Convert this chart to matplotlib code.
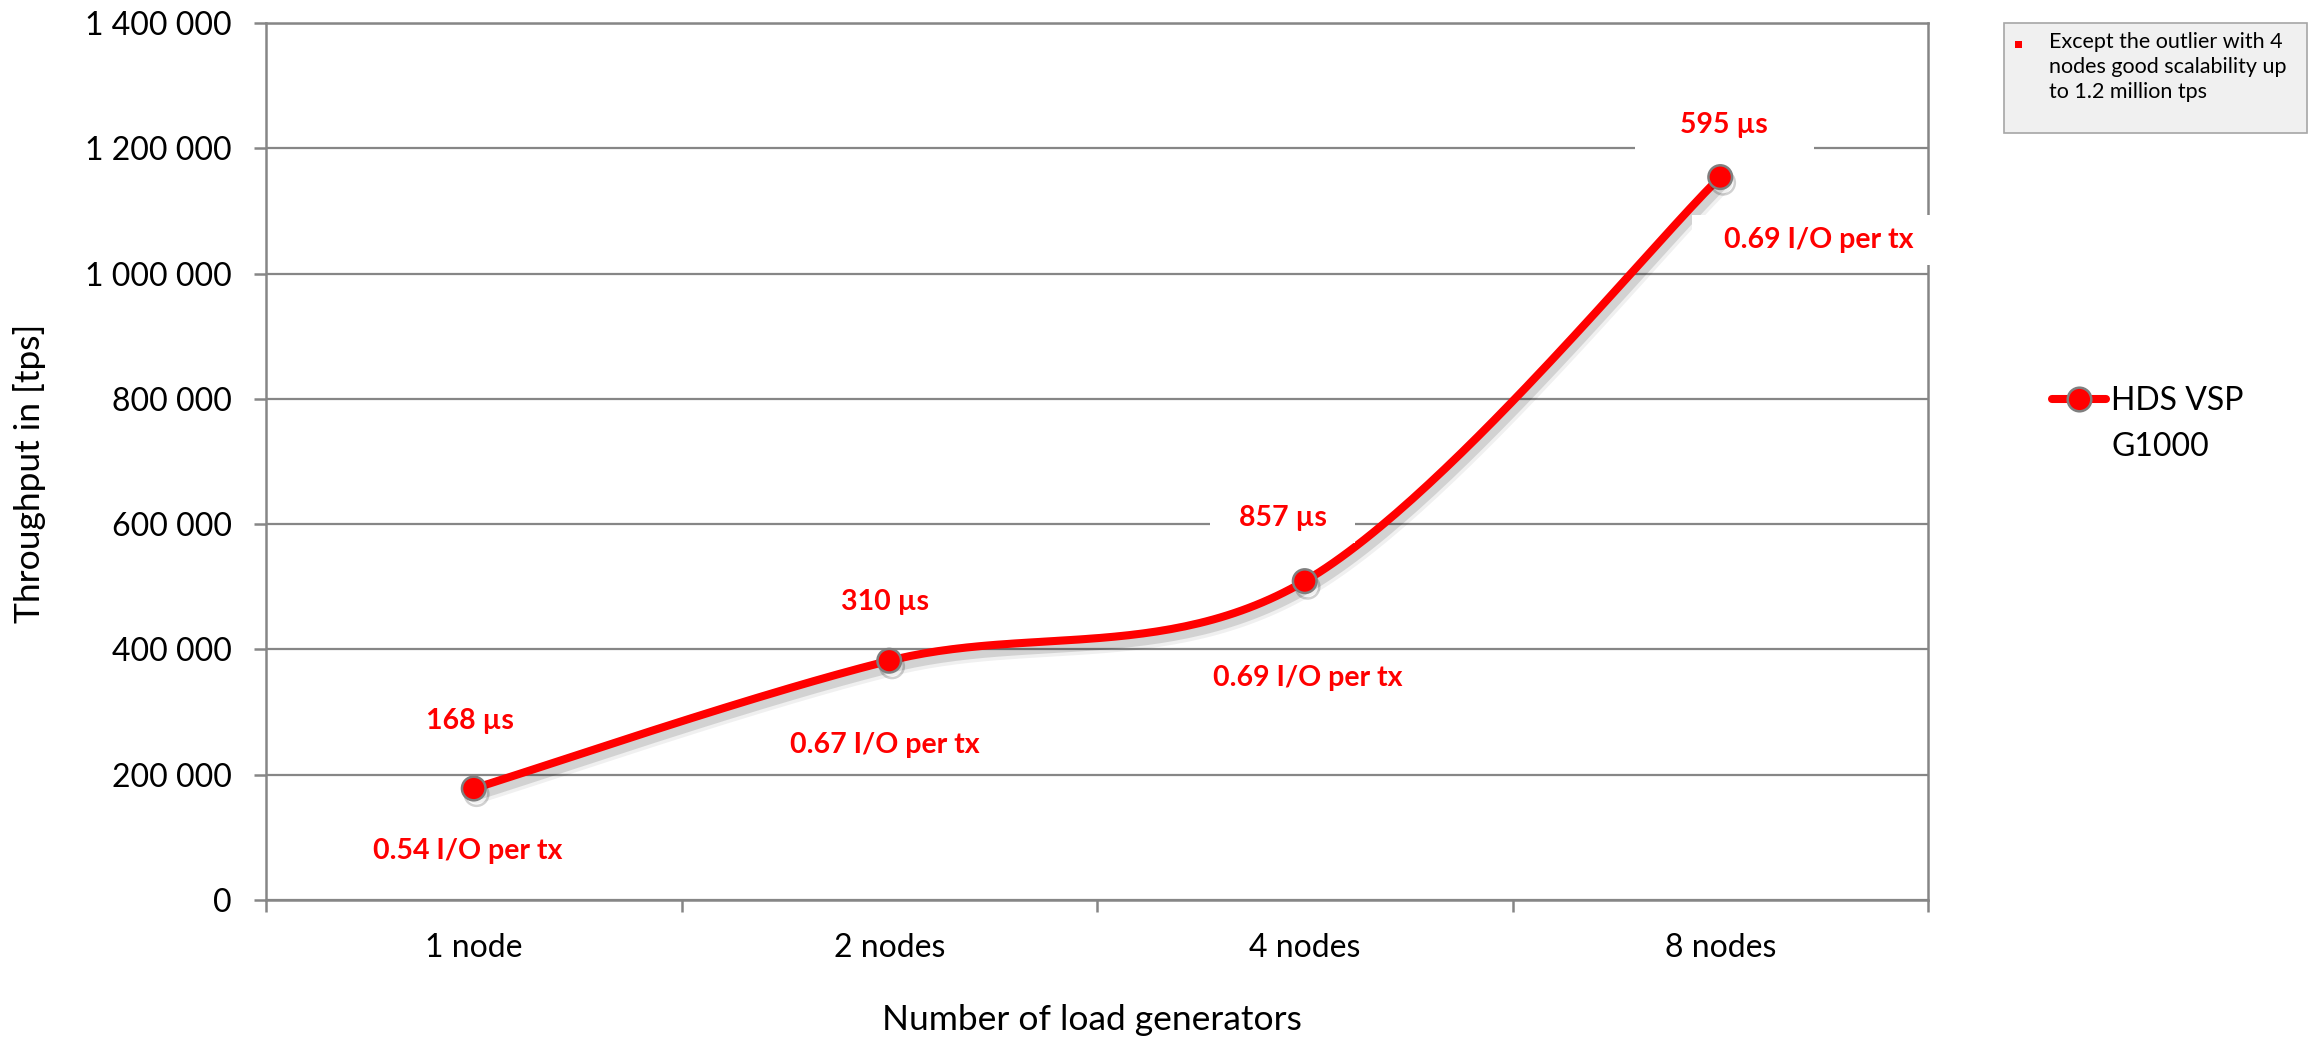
import numpy as np
import matplotlib
matplotlib.use("Agg")
import matplotlib.pyplot as plt
import matplotlib.patheffects as pe
from matplotlib.path import Path
from matplotlib.lines import Line2D
from matplotlib.patches import Rectangle
from matplotlib.ticker import FuncFormatter, FixedLocator

# ---- data -------------------------------------------------------------
categories = ["1 node", "2 nodes", "4 nodes", "8 nodes"]
throughput = [178000, 382000, 509000, 1154000]
latency_labels = ["168 µs", "310 µs", "857 µs", "595 µs"]
io_labels = ["0.54 I/O per tx", "0.67 I/O per tx", "0.69 I/O per tx", "0.69 I/O per tx"]
series_name = ["HDS VSP", "G1000"]
note_text = "Except the outlier with 4\nnodes good scalability up\nto 1.2 million tps"

# label offsets from each point, in pixels (dx, dy), and box side padding
latency_offsets = [(-4, 67), (-4, 59), (-22, 63), (4, 52)]
latency_pads = [1.1, 1.1, 1.0, 1.6]
io_offsets = [(-6, -63), (-4, -84), (3, -97), (98, -63)]
io_pads = [1.1, 1.1, 1.1, 1.1]

W, H, DPI = 2319, 1043, 100
RED = "#ff0000"
GRAY = "#868686"
FONT = "Lato"

plt.rcParams["font.family"] = [FONT, "DejaVu Sans"]


def fx(px):
    return px / W


def fy(py):
    return 1 - py / H


def smooth_curve(xs, ys, n=60):
    """Catmull-Rom style cubic Bezier smoothing through all points."""
    xs = np.asarray(xs, float)
    ys = np.asarray(ys, float)
    px = np.concatenate([[xs[0]], xs, [xs[-1]]])
    py = np.concatenate([[ys[0]], ys, [ys[-1]]])
    out_x, out_y = [], []
    t = np.linspace(0, 1, n)
    for i in range(1, len(px) - 2):
        p0 = np.array([px[i], py[i]])
        p3 = np.array([px[i + 1], py[i + 1]])
        c1 = p0 + (np.array([px[i + 1], py[i + 1]]) - np.array([px[i - 1], py[i - 1]])) / 6
        c2 = p3 - (np.array([px[i + 2], py[i + 2]]) - np.array([px[i], py[i]])) / 6
        b = ((1 - t) ** 3)[:, None] * p0 + (3 * (1 - t) ** 2 * t)[:, None] * c1 \
            + (3 * (1 - t) * t ** 2)[:, None] * c2 + (t ** 3)[:, None] * p3
        out_x.extend(b[:, 0])
        out_y.extend(b[:, 1])
    return np.array(out_x), np.array(out_y)


def make_box(padx_frac, pady_frac):
    def box(x0, y0, width, height, mutation_size):
        padx, pady = padx_frac * mutation_size, pady_frac * mutation_size
        x0, y0 = x0 - padx, y0 - pady
        x1, y1 = x0 + width + 2 * padx, y0 + height + 2 * pady
        return Path([(x0, y0), (x1, y0), (x1, y1), (x0, y1), (x0, y0)],
                    closed=True)
    return box


fig = plt.figure(figsize=(W / DPI, H / DPI), dpi=DPI)
ax = fig.add_axes([fx(266), fy(900), fx(1928) - fx(266), fy(23) - fy(900)])

x = np.arange(len(categories))
ax.set_xlim(-0.5, len(categories) - 0.5)
ax.set_ylim(0, 1400000)

# grid and axes
ax.set_yticks(np.arange(0, 1400001, 200000))
ax.yaxis.set_major_formatter(FuncFormatter(lambda v, _: f"{v:,.0f}".replace(",", " ")))
ax.grid(axis="y", color=GRAY, linewidth=1.6, zorder=0)
ax.set_axisbelow(True)
for side in ["left", "bottom", "right", "top"]:
    ax.spines[side].set_color(GRAY)
    ax.spines[side].set_linewidth(1.8)

ax.xaxis.set_major_locator(FixedLocator(np.arange(-0.5, len(categories), 1.0)))
ax.xaxis.set_minor_locator(FixedLocator(x))
ax.set_xticklabels([""] * (len(categories) + 1))
ax.set_xticklabels(categories, minor=True)
ax.tick_params(axis="x", which="major", length=8.6, width=1.8, color=GRAY, direction="out")
ax.tick_params(axis="x", which="minor", length=0, pad=24, labelsize=23)
ax.tick_params(axis="y", length=8.6, width=1.8, color=GRAY, direction="out",
               pad=16, labelsize=23)

# series line with soft shadow
sx, sy = smooth_curve(x, throughput)
shadow = [pe.SimpleLineShadow(offset=(2, -4), shadow_color="#000000", alpha=0.06,
                              linewidth=14),
          pe.SimpleLineShadow(offset=(2, -4), shadow_color="#000000", alpha=0.12,
                              linewidth=9),
          pe.Normal()]
ax.plot(sx, sy, color=RED, linewidth=5.8, solid_capstyle="round", zorder=3,
        path_effects=shadow)
ax.plot(x, throughput, linestyle="none", marker="o", markersize=17,
        markerfacecolor=RED, markeredgecolor="#7f7f7f", markeredgewidth=1.8,
        zorder=4,
        path_effects=[pe.SimpleLineShadow(offset=(2, -4), alpha=0.18), pe.Normal()])

# data labels
for i in range(len(categories)):
    for text, off, padx in ((latency_labels[i], latency_offsets[i], latency_pads[i]),
                            (io_labels[i], io_offsets[i], io_pads[i])):
        ax.annotate(text, (x[i], throughput[i]), xytext=off, textcoords="offset pixels",
                    ha="center", va="center", color=RED, fontsize=20.5,
                    fontweight="bold", zorder=6, annotation_clip=False,
                    bbox=dict(boxstyle=make_box(padx, 0.42), fc="white", ec="none"))

# axis titles
fig.text(fx(30), fy(473), "Throughput in [tps]", rotation=90, ha="center",
         va="center", fontsize=25.5)
fig.text(fx(1092), fy(1020), "Number of load generators", ha="center",
         va="center", fontsize=25.5)

# legend
handle = Line2D([], [], color=RED, linewidth=5.8, marker="o", markersize=17,
                markerfacecolor=RED, markeredgecolor="#7f7f7f", markeredgewidth=1.8,
                solid_capstyle="round")
leg = fig.legend([handle], [series_name[0]], loc="center left",
                 bbox_to_anchor=(fx(2052), fy(401)), frameon=False,
                 fontsize=23, handlelength=1.7, handletextpad=0.15,
                 borderpad=0, borderaxespad=0)
fig.canvas.draw()
tb = leg.get_texts()[0].get_window_extent()
fig.text(tb.x0 / W, fy(447), series_name[1], ha="left", va="center", fontsize=23)

# note box
fig.patches.append(Rectangle((fx(2004), fy(133)), fx(2307) - fx(2004), fy(23) - fy(133),
                             transform=fig.transFigure, facecolor="#f0f0f0",
                             edgecolor="#a6a6a6", linewidth=1.2))
fig.patches.append(Rectangle((fx(2015), fy(48)), fx(7), fy(41) - fy(48),
                             transform=fig.transFigure, facecolor=RED,
                             edgecolor="none"))
fig.text(fx(2049), fy(32), note_text, ha="left", va="top", fontsize=15.5,
         linespacing=1.3)

fig.savefig("out.png", dpi=DPI)
